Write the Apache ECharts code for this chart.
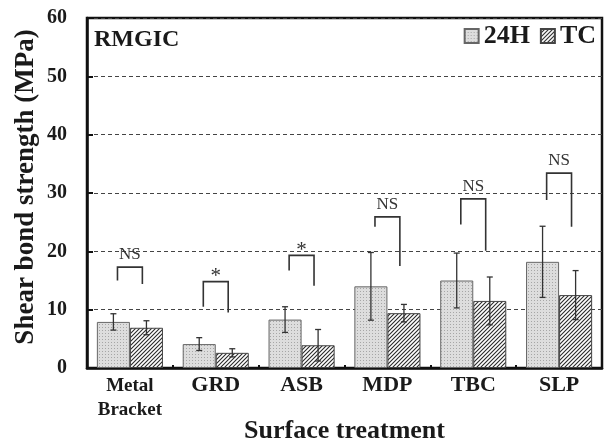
<!DOCTYPE html>
<html><head><meta charset="utf-8">
<script src="https://cdn.jsdelivr.net/npm/echarts@6/dist/echarts.min.js"></script>
<style>html,body{margin:0;padding:0;background:#fff}#c{width:604px;height:444px}</style>
</head><body><div id="c"></div>
<script>
const categories = ['Metal\nBracket', 'GRD', 'ASB', 'MDP', 'TBC', 'SLP'];
const seriesNames = ['24H', 'TC'];
const h24 = [7.9, 4.1, 8.3, 14.0, 15.0, 18.2];
const h24Err = [1.4, 1.1, 2.2, 5.8, 4.7, 6.1];
const tc = [6.9, 2.6, 3.9, 9.4, 11.5, 12.5];
const tcErr = [1.2, 0.7, 2.7, 1.5, 4.1, 4.2];
const sigLabels = ['NS', '*', '*', 'NS', 'NS', 'NS'];
const sigTop = [17.3, 14.8, 19.3, 25.9, 29.0, 33.4];
const sigLeft = [15.0, 10.5, 16.7, 24.2, 24.6, 28.8];
const sigRight = [14.4, 9.5, 14.1, 17.5, 20.1, 24.2];
const yMin = 0, yMax = 60, yStep = 10;

const SERIF = '"Liberation Serif","DejaVu Serif","Times New Roman",serif';
const TXT = '#1a1a1a';

function dotPattern() {
  const c = document.createElement('canvas'); c.width = 3; c.height = 3;
  const g = c.getContext('2d');
  g.fillStyle = '#dddddd'; g.fillRect(0, 0, 3, 3);
  g.fillStyle = '#a6a6a6'; g.fillRect(0, 0, 1, 1);
  return c;
}
function hatchPattern() {
  const s = 4;
  const c = document.createElement('canvas'); c.width = s; c.height = s;
  const g = c.getContext('2d');
  g.fillStyle = '#ffffff'; g.fillRect(0, 0, s, s);
  g.strokeStyle = '#2a2a2a'; g.lineWidth = 1.1;
  g.beginPath();
  g.moveTo(-1, s + 1); g.lineTo(s + 1, -1);
  g.moveTo(-1, 1); g.lineTo(1, -1);
  g.moveTo(s - 1, s + 1); g.lineTo(s + 1, s - 1);
  g.stroke();
  return c;
}
const dotFill = { image: dotPattern(), repeat: 'repeat' };
const hatchFill = { image: hatchPattern(), repeat: 'repeat' };

const BAR_FRAC = 0.77 / 2;
function errSeries(vals, errs, sign) {
  return {
    type: 'custom', z: 5, silent: true,
    data: vals.map((v, i) => [i, v, errs[i]]),
    renderItem: function (params, api) {
      const i = api.value(0), v = api.value(1), e = api.value(2);
      const band = api.size([1, 0])[0];
      const x = api.coord([i, v])[0] + sign * band * BAR_FRAC / 2;
      const yt = api.coord([i, v + e])[1];
      const yb = api.coord([i, v - e])[1];
      const cw = 3;
      const st = { stroke: '#333', lineWidth: 1.3 };
      return { type: 'group', children: [
        { type: 'line', shape: { x1: x, y1: yt, x2: x, y2: yb }, style: st },
        { type: 'line', shape: { x1: x - cw, y1: yt, x2: x + cw, y2: yt }, style: st },
        { type: 'line', shape: { x1: x - cw, y1: yb, x2: x + cw, y2: yb }, style: st }
      ]};
    }
  };
}

const bracketSeries = {
  type: 'custom', z: 6, silent: true,
  data: sigTop.map((t, i) => [i, t, sigLeft[i], sigRight[i]]),
  renderItem: function (params, api) {
    const i = api.value(0);
    const band = api.size([1, 0])[0];
    const cx = api.coord([i, api.value(1)])[0];
    const yt = api.coord([i, api.value(1)])[1];
    const yl = api.coord([i, api.value(2)])[1];
    const yr = api.coord([i, api.value(3)])[1];
    const xl = cx - band * 0.145, xr = cx + band * 0.145;
    const lab = sigLabels[params.dataIndex];
    const star = lab === '*';
    return { type: 'group', children: [
      { type: 'polyline', shape: { points: [[xl, yl], [xl, yt], [xr, yt], [xr, yr]] },
        style: { stroke: '#333', lineWidth: 1.6, fill: null } },
      { type: 'text', x: cx, y: yt - (star ? 5 : 12.5),
        style: { text: lab, fill: '#333', font: (star ? '21px ' : '17px ') + SERIF, align: 'center', verticalAlign: 'middle' } }
    ]};
  }
};

const chart = echarts.init(document.getElementById('c'), null, { renderer: 'canvas' });
chart.setOption({
  animation: false,
  backgroundColor: '#fff',
  title: { text: 'RMGIC', left: 94, top: 28, padding: 0,
    textStyle: { fontFamily: SERIF, fontSize: 24, fontWeight: 'bold', color: TXT } },
  legend: { data: seriesNames, right: 8, top: 23, padding: 0, itemWidth: 14, itemHeight: 14, itemGap: 10, icon: 'rect',
    textStyle: { fontFamily: SERIF, fontSize: 26, fontWeight: 'bold', color: TXT } },
  grid: { left: 87, right: 2, top: 18, bottom: 76, show: true, borderColor: '#111', borderWidth: 2.5,
    containLabel: false, outerBoundsMode: 'none' },
  xAxis: {
    type: 'category', data: categories,
    name: 'Surface treatment', nameLocation: 'middle', nameGap: 50, nameMoveOverlap: false,
    nameTextStyle: { fontFamily: SERIF, fontSize: 26, fontWeight: 'bold', color: TXT },
    axisLine: { lineStyle: { color: '#111', width: 2.5 } },
    axisTick: { show: true, inside: true, length: 3, lineStyle: { color: '#111', width: 2 } },
    axisLabel: { interval: 0, margin: 6, fontFamily: SERIF, fontSize: 22, fontWeight: 'bold', color: TXT,
      formatter: function (v) { return v.indexOf('\n') >= 0 ? v.split('\n').map(s => '{s|' + s + '}').join('\n') : v; },
      rich: { s: { fontFamily: SERIF, fontSize: 19, fontWeight: 'bold', color: TXT, lineHeight: 24 } } },
    splitLine: { show: false }
  },
  yAxis: {
    type: 'value', min: yMin, max: yMax, interval: yStep,
    name: 'Shear bond strength (MPa)', nameLocation: 'middle', nameGap: 47, nameMoveOverlap: false,
    nameTextStyle: { fontFamily: SERIF, fontSize: 27, fontWeight: 'bold', color: TXT, padding: [0, 0, 0, 12] },
    axisLine: { show: true, lineStyle: { color: '#111', width: 2.5 } },
    axisTick: { show: true, inside: true, length: 6, lineStyle: { color: '#111', width: 2 } },
    axisLabel: { margin: 20, fontFamily: SERIF, fontSize: 20, fontWeight: 'bold', color: TXT },
    splitLine: { show: true, lineStyle: { color: '#444', width: 1, type: [4, 3] } }
  },
  series: [
    { name: '24H', type: 'bar', data: h24, barGap: '0%', barCategoryGap: '23%',
      itemStyle: { color: dotFill, borderColor: '#666', borderWidth: 1 } },
    { name: 'TC', type: 'bar', data: tc, barGap: '0%', barCategoryGap: '23%',
      itemStyle: { color: hatchFill, borderColor: '#444', borderWidth: 1 } },
    errSeries(h24, h24Err, -1),
    errSeries(tc, tcErr, 1),
    bracketSeries
  ]
});
</script></body></html>
